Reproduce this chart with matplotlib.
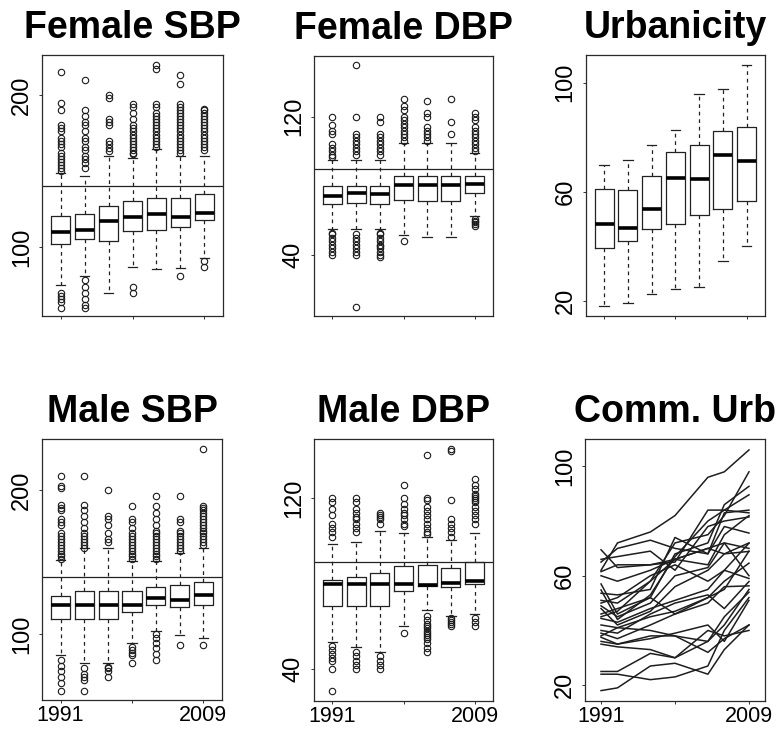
import numpy as np
import matplotlib.pyplot as plt

plt.rcParams['font.family'] = ['Liberation Sans', 'DejaVu Sans']

waves = [1991, 1993, 1997, 2000, 2004, 2006, 2009]

# box statistics: low whisker, q1, median, q3, high whisker
fsbp_lo = [75, 81, 70, 87, 85.5, 86, 93]
fsbp_q1 = [102, 105, 104, 110.5, 111.5, 113, 117.5]
fsbp_med = [110, 111, 117, 120, 122, 120, 122.5]
fsbp_q3 = [120.5, 122, 127, 130, 132.5, 132, 135]
fsbp_hi = [149, 147, 160, 158.5, 164.5, 160, 160]
fsbp_out = [
    [215, 195, 190, 180, 178, 176, 172, 170, 168, 166, 162, 160, 158, 156, 154, 152, 150, 70, 68, 66, 64, 60],
    [210, 190, 186, 182, 180, 176, 172, 170, 166, 164, 160, 158, 155, 152, 78, 74, 70, 66, 62, 60],
    [200, 198, 184, 182, 180, 170, 168, 165, 163],
    [194, 192, 188, 184, 180, 178, 176, 174, 172, 170, 168, 166, 164, 162, 161, 74, 70],
    [220, 217, 194, 192, 188, 186, 184, 182, 180, 178, 176, 174, 172, 170, 168, 166],
    [213, 207, 194, 192, 190, 188, 186, 184, 182, 180, 178, 176, 174, 172, 170, 168, 166, 164, 162, 81],
    [191, 190, 188, 186, 184, 182, 180, 178, 176, 174, 172, 170, 168, 166, 164, 91, 87],
]

fdbp_lo = [55, 55, 55, 51.5, 50.5, 50.5, 62.5]
fdbp_q1 = [69.5, 70, 69.5, 72, 71.5, 71.5, 76]
fdbp_med = [74, 76, 75.5, 80.5, 80.5, 80.5, 81]
fdbp_q3 = [80, 80, 80, 85.5, 85.5, 85.5, 85.5]
fdbp_hi = [95, 95, 95, 105, 105, 105, 99]
fdbp_out = [
    [120, 115, 112, 110, 104, 102, 100, 98, 97, 53, 52, 50, 48, 46, 44, 42, 40],
    [150, 120, 110, 108, 106, 104, 102, 100, 98, 52, 50, 48, 46, 44, 42, 40, 10],
    [120, 117, 110, 108, 106, 104, 102, 100, 98, 53, 52, 50, 48, 46, 45, 44, 42, 40, 39],
    [130, 126, 124, 120, 118, 116, 114, 112, 110, 108, 106, 48],
    [129, 122, 120, 114, 112, 110, 108, 106],
    [130, 117, 110],
    [122, 120, 118, 114, 112, 110, 108, 106, 104, 102, 100, 61, 60, 59, 58, 57],
]

urb_lo = [18.2, 19.2, 22.6, 24.4, 25.3, 34.7, 40.3]
urb_q1 = [39.3, 41.8, 46.5, 48.1, 51.5, 53.7, 56.5]
urb_med = [48.2, 46.6, 53.7, 65.2, 64.6, 73.6, 71.2]
urb_q3 = [61, 60.6, 65.9, 74.6, 77, 82.4, 83.6]
urb_hi = [69.8, 71.8, 77, 82.5, 95.7, 97.8, 106.3]
urb_out = [[], [], [], [], [], [], []]

msbp_lo = [85, 80, 80, 93.5, 102, 99, 97]
msbp_q1 = [110.5, 110.5, 110.5, 115, 120, 119, 120]
msbp_med = [120, 120, 120, 120.5, 125, 124, 127]
msbp_q3 = [126.5, 130, 130, 130, 132.5, 134, 136.5]
msbp_hi = [151.5, 160, 160, 151, 151, 156.5, 160]
msbp_out = [
    [210, 203, 202, 190, 188, 186, 180, 178, 176, 170, 168, 166, 164, 162, 160, 158, 156, 154, 152, 82, 78, 74, 70, 66, 60],
    [210, 190, 186, 182, 178, 174, 170, 168, 166, 164, 162, 160, 76, 72, 70, 68, 60],
    [200, 182, 180, 176, 170, 166, 164, 77, 76, 74, 70],
    [189, 180, 178, 174, 170, 168, 166, 164, 162, 160, 158, 156, 154, 152, 91, 89, 87, 85, 80],
    [196, 189, 184, 180, 176, 172, 170, 168, 166, 164, 162, 160, 158, 156, 154, 152, 100, 97, 94, 90, 86, 82],
    [196, 180, 178, 172, 170, 168, 166, 164, 162, 160, 158, 92],
    [229, 189, 188, 186, 184, 182, 180, 178, 176, 174, 172, 170, 168, 166, 164, 162, 92],
]

mdbp_lo = [52.5, 50.5, 48, 60, 67.5, 65, 66]
mdbp_q1 = [69.5, 69.5, 69.5, 76.5, 79, 78.5, 80]
mdbp_med = [80, 80, 80, 80, 79.5, 80.5, 81]
mdbp_q3 = [81.5, 83, 85, 88, 88.5, 87.5, 90]
mdbp_hi = [98.5, 99.5, 104.5, 103.5, 102, 100.5, 103.5]
mdbp_out = [
    [120, 118, 115, 112, 108, 106, 104, 102, 51, 49, 47, 45, 44, 40, 30],
    [120, 118, 115, 113, 111, 110, 108, 106, 104, 48, 46, 44, 42, 40],
    [113, 112, 111, 110, 108, 46, 44, 42, 40],
    [126, 120, 117, 115, 113, 112, 110, 108, 107, 57],
    [140, 120, 119, 116, 114, 112, 110, 108, 106, 104, 103, 65, 63, 61, 60, 59, 58, 57, 56, 55, 54, 52, 50, 48],
    [143, 142, 119, 110, 108, 106, 104, 102, 64, 63, 62, 61, 60],
    [129, 126, 124, 122, 121, 120, 119, 118, 116, 114, 112, 110, 108, 64, 62, 60],
]

# community urbanicity, one row per community
comm_urb = [
    [62, 72, 76, 82, 96, 98, 106],
    [69.5, 63, 64, 66, 64, 75, 82],
    [65, 70, 73, 70, 68, 83, 84],
    [61.5, 64, 64, 65, 84, 84, 83],
    [57, 46, 52, 68, 72, 86, 92.7],
    [54.8, 44, 53, 67, 80, 84, 89.6],
    [53.6, 53, 55, 74, 68, 78, 75.6],
    [51, 50, 58, 72, 75, 82, 98],
    [49, 45, 50, 60, 63, 72, 70],
    [48, 42, 47, 56, 62, 68, 72],
    [46, 48, 52, 46, 52, 55, 69],
    [44.4, 43, 48, 51, 55, 62, 59],
    [42, 41, 45, 47, 52, 58, 64.6],
    [40, 39, 46, 50, 53, 48, 57.9],
    [39, 37, 42, 46, 50, 56, 56.3],
    [38, 41, 40, 38, 36, 45, 54],
    [37.5, 35, 37, 39, 42, 36, 51],
    [36, 35, 38, 38, 32, 37, 42],
    [35, 34, 33, 30, 40, 38, 40],
    [25, 25, 31.6, 30, 36, 42, 55],
    [18, 19, 27, 28, 24, 33, 42],
    [24, 24, 22, 23, 27, 40, 52],
    [60, 58, 62, 66, 70, 68, 68.9],
    [50, 52, 60, 64, 58, 62, 71.9],
    [66, 67, 69, 62, 78, 80, 81.5],
    [45, 47, 58, 66, 70, 72, 60],
]

W, H = 783, 733
fig = plt.figure(figsize=(W / 100, H / 100), dpi=100)


def add_axes(x0, x1, y0, y1):
    return fig.add_axes([x0 / W, 1 - y1 / H, (x1 - x0) / W, (y1 - y0) / H])


def style(ax, title, yticks, ylim, bottom):
    ax.set_title(title, fontsize=27, fontweight='bold', pad=12)
    ax.set_ylim(*ylim)
    ax.set_yticks(yticks)
    ax.set_yticklabels([str(t) for t in yticks], rotation=90, va='center', fontsize=17)
    ax.tick_params(axis='both', length=2.5, width=0.7, color='#333333')
    ax.tick_params(axis='y', pad=4)
    ax.tick_params(axis='x', pad=1, labelsize=15.5)
    if not bottom:
        ax.set_xticklabels([])
    for s in ax.spines.values():
        s.set_linewidth(0.9)
        s.set_color('#2a2a2a')


def boxpanel(ax, lo, q1, med, q3, hi, out, title, yticks, ylim, bottom, ref=None):
    stats = []
    for i in range(len(waves)):
        stats.append(dict(whislo=lo[i], q1=q1[i], med=med[i], q3=q3[i],
                          whishi=hi[i], fliers=out[i]))
    ax.bxp(stats, positions=range(1, 8), widths=0.8, capwidths=0.4,
           boxprops=dict(color='#222222', lw=0.9),
           medianprops=dict(color='black', lw=2.6, solid_capstyle='butt'),
           whiskerprops=dict(color='#222222', lw=0.9, linestyle=(0, (3, 3))),
           capprops=dict(color='#222222', lw=0.9),
           flierprops=dict(marker='o', markersize=4.6, markerfacecolor='none',
                           markeredgecolor='#1a1a1a', markeredgewidth=0.8))
    if ref is not None:
        ax.axhline(ref, color='#222222', lw=0.9)
    ax.set_xlim(0.22, 7.78)
    ax.set_xticks([1, 4, 7])
    ax.set_xticklabels(['1991', '', '2009'])
    style(ax, title, yticks, ylim, bottom)


ax = add_axes(42, 223, 55, 316)
boxpanel(ax, fsbp_lo, fsbp_q1, fsbp_med, fsbp_q3, fsbp_hi, fsbp_out,
         'Female SBP', [100, 200], (54.6, 226.3), False, ref=140)

ax = add_axes(314, 493, 56, 316)
boxpanel(ax, fdbp_lo, fdbp_q1, fdbp_med, fdbp_q3, fdbp_hi, fdbp_out,
         'Female DBP', [40, 120], (4.8, 155.1), False, ref=90)

ax = add_axes(585.7, 765, 55, 316)
boxpanel(ax, urb_lo, urb_q1, urb_med, urb_q3, urb_hi, urb_out,
         'Urbanicity', [20, 60, 100], (14.5, 110.1), False)

ax = add_axes(42, 222, 439, 700)
boxpanel(ax, msbp_lo, msbp_q1, msbp_med, msbp_q3, msbp_hi, msbp_out,
         'Male SBP', [100, 200], (54, 235.8), True, ref=140)

ax = add_axes(314, 493, 439, 701)
boxpanel(ax, mdbp_lo, mdbp_q1, mdbp_med, mdbp_q3, mdbp_hi, mdbp_out,
         'Male DBP', [40, 120], (25.1, 147.6), True, ref=90)

ax = add_axes(585, 765, 439, 701)
for row in comm_urb:
    ax.plot(waves, row, color='#1e1e1e', lw=1.1)
ax.set_xlim(1989.05, 2010.95)
ax.set_xticks([1991, 2000, 2009])
ax.set_xticklabels(['1991', '', '2009'])
style(ax, 'Comm. Urb', [20, 60, 100], (14.2, 110), True)

fig.savefig('out.png', dpi=100)
